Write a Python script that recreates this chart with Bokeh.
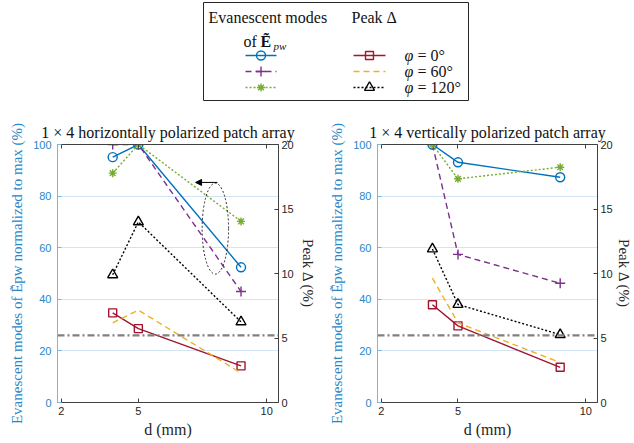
from bokeh.plotting import figure
from bokeh.models import Range1d, LinearAxis, FixedTicker, Span, Arrow, NormalHead, Title
from bokeh.layouts import column, row
from bokeh.embed import file_html
from bokeh.resources import INLINE
from bokeh.core.properties import value

# ---------------- data ----------------
d_mm = [4, 5, 9]
x_ticks = [2, 5, 10]
left_ticks = [0, 20, 40, 60, 80, 100]
right_ticks = [0, 5, 10, 15, 20]

# horizontally polarized (left panel)
h_evan_0 = [95.1, 100, 52.4]
h_evan_60 = [100, 100, 43.0]
h_evan_120 = [88.9, 100, 70.2]
h_peak_0 = [6.95, 5.73, 2.84]
h_peak_60 = [6.17, 7.16, 2.29]
h_peak_120 = [9.9, 14.0, 6.25]

# vertically polarized (right panel)
v_evan_0 = [100, 93.1, 87.3]
v_evan_60 = [100, 57.4, 46.2]
v_evan_120 = [100, 86.7, 91.2]
v_peak_0 = [7.58, 5.94, 2.73]
v_peak_60 = [9.64, 6.17, 3.1]
v_peak_120 = [11.9, 7.6, 5.26]

threshold = 5.2

titles = ["1 × 4 horizontally polarized patch array", "1 × 4 vertically polarized patch array"]
phi_values = ["= 0°", "= 60°", "= 120°"]
x_label = "d (mm)"
left_label = "Evanescent modes of Ẽpw normalized to max (%)"
right_label = "Peak Δ (%)"

BLUE = "#0072BD"; PURPLE = "#7E2F8E"; GREEN = "#77AC30"
RED = "#A2142F"; ORANGE = "#EDB120"; BLACK = "#000000"
SERIF = "Liberation Serif"; SANS = "'Liberation Sans'"
AX = "#404040"
LBLUE_TXT = "#2a86c8"; LBLUE_LINE = "#7ab6e2"

LEG_H = 101
PANEL_H = 443 - LEG_H

evan_styles = [
    dict(color=BLUE, dash="solid", marker="circle", size=9),
    dict(color=PURPLE, dash="6 4", marker="cross", size=10),
    dict(color=GREEN, dash="2 2", marker="asterisk", size=8),
]
peak_styles = [
    dict(color=RED, dash="solid", marker="square", size=8),
    dict(color=ORANGE, dash="6 4", marker=None, size=0),
    dict(color=BLACK, dash="2 2", marker="triangle", size=10),
]


def side_title(text, color, size, standoff):
    return Title(text=text, align="center", text_font=SERIF, text_font_size=size,
                 text_font_style="normal", text_color=color, standoff=standoff)


def make_panel(title, evan, peak, width, ml, mr, lso, rso, ellipse=False):
    p = figure(width=width, height=PANEL_H, x_range=Range1d(1.85, 10.46), y_range=Range1d(0, 100),
               toolbar_location=None, output_backend="svg",
               min_border_left=ml, min_border_right=mr, min_border_top=144 - LEG_H,
               min_border_bottom=41)
    p.extra_y_ranges = {"r": Range1d(0, 20)}
    p.outline_line_color = None
    p.background_fill_color = "white"
    p.border_fill_color = "white"

    p.title.text = title
    p.title.text_font = SERIF
    p.title.text_font_style = "normal"
    p.title.text_font_size = "16px"
    p.title.align = "center"
    p.title.text_color = "#111111"
    p.title.standoff = 8

    # x axis
    xa = p.xaxis[0]
    xa.ticker = FixedTicker(ticks=x_ticks)
    xa.major_tick_in = 4; xa.major_tick_out = 0
    xa.minor_tick_line_color = None
    xa.axis_line_color = AX; xa.major_tick_line_color = AX
    xa.major_label_text_font = SANS; xa.major_label_text_font_size = "11px"
    xa.major_label_text_color = "#262626"
    xa.major_label_standoff = 4

    # left axis
    ya = p.yaxis[0]
    ya.ticker = FixedTicker(ticks=left_ticks)
    ya.major_tick_in = 4; ya.major_tick_out = 0
    ya.minor_tick_line_color = None
    ya.axis_line_color = LBLUE_LINE; ya.major_tick_line_color = LBLUE_LINE
    ya.major_label_text_font = SANS; ya.major_label_text_font_size = "11px"
    ya.major_label_text_color = LBLUE_TXT
    ya.major_label_standoff = 6

    # top axis (box)
    ta = LinearAxis(ticker=FixedTicker(ticks=x_ticks), major_tick_in=4, major_tick_out=0,
                    minor_tick_line_color=None, axis_line_color=AX,
                    major_tick_line_color=AX, major_label_standoff=7,
                    major_label_overrides={2: "", 5: "", 10: ""})
    p.add_layout(ta, "above")

    # right axis
    ra = LinearAxis(y_range_name="r", ticker=FixedTicker(ticks=right_ticks))
    ra.major_tick_in = 4; ra.major_tick_out = 0
    ra.minor_tick_line_color = None
    ra.axis_line_color = AX; ra.major_tick_line_color = AX
    ra.major_label_text_font = SANS; ra.major_label_text_font_size = "11px"
    ra.major_label_text_color = "#262626"
    ra.major_label_standoff = 3
    p.add_layout(ra, "right")

    p.add_layout(side_title(x_label, "#262626", "16px", 2), "below")
    p.add_layout(side_title(left_label, LBLUE_TXT, "15px", lso), "left")
    p.add_layout(side_title(right_label, "#262626", "15px", rso), "right")

    p.xgrid.grid_line_color = None
    p.ygrid.ticker = FixedTicker(ticks=left_ticks)
    p.ygrid.grid_line_color = "#d3e5f4"
    p.ygrid.grid_line_width = 1

    p.add_layout(Span(location=threshold, dimension="width", y_range_name="r",
                      line_color="#808080", line_width=2.2, line_dash="7 3 2 3"))

    for ys, st in zip(evan, evan_styles):
        p.line(d_mm, ys, line_color=st["color"], line_dash=st["dash"], line_width=1.4)
        p.scatter(d_mm, ys, marker=st["marker"], size=st["size"], line_color=st["color"],
                  fill_color=None, line_width=1.4)
    for ys, st in zip(peak, peak_styles):
        p.line(d_mm, ys, line_color=st["color"], line_dash=st["dash"], line_width=1.4,
               y_range_name="r")
        if st["marker"]:
            p.scatter(d_mm, ys, marker=st["marker"], size=st["size"], line_color=st["color"],
                      fill_color=None, line_width=1.4, y_range_name="r")

    if ellipse:
        p.ellipse(x=[8.0], y=[67.4], width=[1.03], height=[35.3], fill_color=None,
                  line_color="#222222", line_dash="2 2", line_width=1)
        p.add_layout(Arrow(end=NormalHead(size=6, fill_color="black", line_color="black"),
                           x_start=8.08, y_start=85.3, x_end=7.23, y_end=85.3,
                           line_color="black", line_width=1))
    return p


p1 = make_panel(titles[0], [h_evan_0, h_evan_60, h_evan_120],
                [h_peak_0, h_peak_60, h_peak_120], 321, 57, 40, 12, 7, ellipse=True)
p2 = make_panel(titles[1], [v_evan_0, v_evan_60, v_evan_120],
                [v_peak_0, v_peak_60, v_peak_120], 313, 56, 34, 11, 1)

# ---------------- legend panel ----------------
L = figure(width=634, height=LEG_H, x_range=Range1d(0, 634), y_range=Range1d(LEG_H, 0),
           toolbar_location=None, output_backend="svg", min_border=0)
L.axis.visible = False
L.grid.grid_line_color = None
L.outline_line_color = None

L.quad(left=[203], right=[468], top=[2], bottom=[100], fill_color=None,
       line_color="#262626", line_width=1)

tx = dict(text_font=value(SERIF), text_font_size="16px", text_baseline="middle",
          text_align="left", text_color="#111111")
L.text(x=[208], y=[17], text=["Evanescent modes"], **tx)
L.text(x=[351], y=[17], text=["Peak Δ"], **tx)
L.text(x=[243], y=[41], text=["of"], **tx)
L.text(x=[260], y=[41], text=["Ẽ"], text_font_style="bold", **tx)
L.text(x=[273], y=[45], text=["pw"], text_font=value(SERIF), text_font_size="11px",
       text_font_style="italic", text_baseline="middle", text_align="left", text_color="#111111")

rows_y = [55, 71, 87]
for yy, st in zip(rows_y, evan_styles):
    L.line([245, 276], [yy, yy], line_color=st["color"], line_dash=st["dash"], line_width=1.4)
    L.scatter([260.5], [yy], marker=st["marker"], size=st["size"], line_color=st["color"],
              fill_color=None, line_width=1.4)
for yy, st, lab in zip(rows_y, peak_styles, phi_values):
    L.line([353, 385], [yy, yy], line_color=st["color"], line_dash=st["dash"], line_width=1.4)
    if st["marker"]:
        L.scatter([369], [yy], marker=st["marker"], size=st["size"], line_color=st["color"],
                  fill_color=None, line_width=1.4)
    L.text(x=[404], y=[yy], text=["φ"], text_font_style="italic", **tx)
    L.text(x=[417], y=[yy], text=[lab], **tx)

layout = column(L, row(p1, p2))
open("out.html", "w").write(file_html(layout, INLINE))
